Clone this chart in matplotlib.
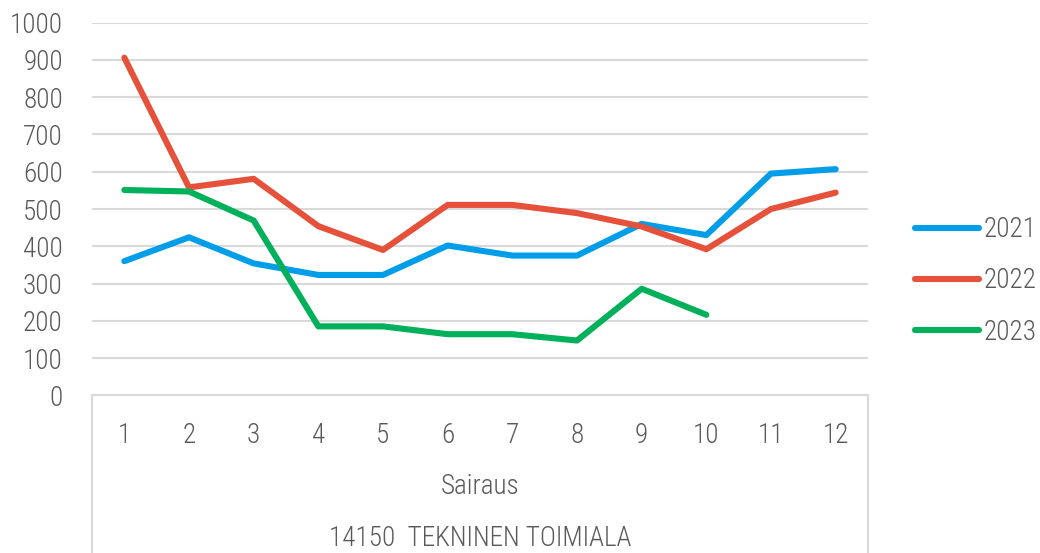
import matplotlib.pyplot as plt
from matplotlib import font_manager

# pick a narrow font if one is there
names = set(f.name for f in font_manager.fontManager.ttflist)
font = 'Roboto'
for cand in ['Liberation Sans Narrow', 'Roboto Condensed', 'Roboto']:
    if cand in names:
        font = cand
        break
plt.rcParams['font.family'] = [font, 'DejaVu Sans']
plt.rcParams['font.weight'] = 'light'

months = [1, 2, 3, 4, 5, 6, 7, 8, 9, 10, 11, 12]
y2021 = [360, 424, 354, 323, 323, 402, 375, 375, 460, 430, 595, 607]
y2022 = [906, 558, 581, 454, 390, 511, 511, 489, 453, 392, 500, 544]
y2023 = [551, 547, 469, 185, 185, 164, 164, 147, 286, 216]
series_names = ['2021', '2022', '2023']
colors = ['#009DE8', '#E5513A', '#00B05A']
xlabel = 'Sairaus'
group_label = '14150  TEKNINEN TOIMIALA'

txt = '#595959'
grid = '#D9D9D9'

fig = plt.figure(figsize=(10.4, 5.53), dpi=100)
ax = fig.add_axes([92/1040, 1-395.3/553, 776/1040, 372.6/553])

for vals, name, c in zip([y2021, y2022, y2023], series_names, colors):
    ax.plot(months[:len(vals)], vals, color=c, lw=4.4, label=name,
            solid_capstyle='round', solid_joinstyle='round')

ax.set_xlim(0.5, 12.5)
ax.set_ylim(0, 1000)
ax.set_yticks(range(0, 1001, 100))
ax.set_xticks(months)
ax.set_xticklabels([str(m) for m in months])
ax.yaxis.grid(True, color=grid, lw=1.5)
ax.set_axisbelow(True)
for s in ['top', 'right', 'left']:
    ax.spines[s].set_visible(False)
ax.spines['bottom'].set_color(grid)
ax.spines['bottom'].set_linewidth(1.5)
ax.tick_params(axis='y', length=0, pad=21, labelsize=19.5, labelcolor=txt)
ax.tick_params(axis='x', length=0, pad=19, labelsize=19.5, labelcolor=txt)

# category box lines below the plot
ax.plot([0, 0], [0, -0.43], transform=ax.transAxes, color=grid, lw=1.5, clip_on=False)
ax.plot([1, 1], [0, -0.43], transform=ax.transAxes, color=grid, lw=1.5, clip_on=False)

ax.text(0.5, -0.246, xlabel, transform=ax.transAxes, ha='center', va='center',
        fontsize=19.5, color=txt)
ax.text(0.5, -0.383, group_label, transform=ax.transAxes, ha='center', va='center',
        fontsize=19.5, color=txt)

leg = ax.legend(loc='center left', bbox_to_anchor=(915/1040, 1-281/553),
                bbox_transform=fig.transFigure, frameon=False, fontsize=19.5,
                handlelength=2.35, handletextpad=0.2, labelspacing=0.9,
                borderpad=0, borderaxespad=0)
for t in leg.get_texts():
    t.set_color(txt)

fig.savefig('out.png', dpi=100)
